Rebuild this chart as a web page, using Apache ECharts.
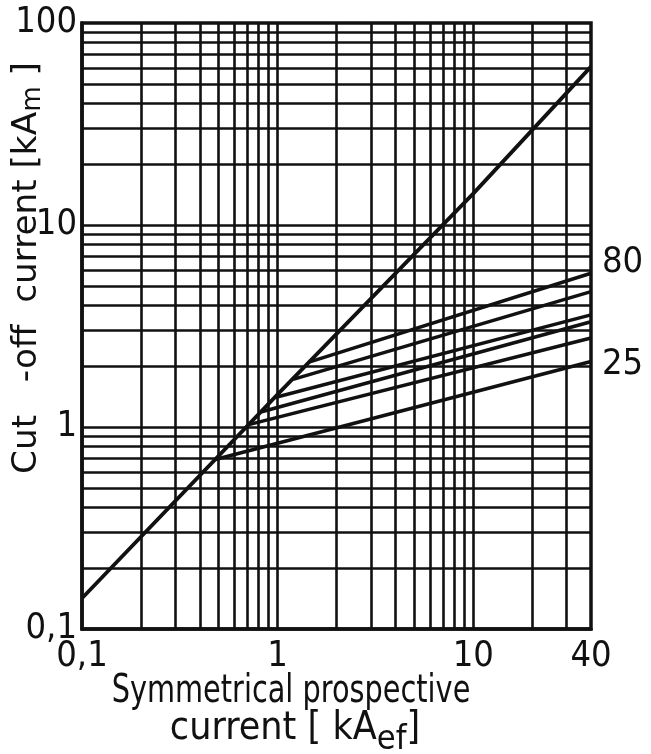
<!DOCTYPE html>
<html><head><meta charset="utf-8">
<script src="https://cdn.jsdelivr.net/npm/echarts@6/dist/echarts.min.js"></script>
<style>html,body{margin:0;padding:0;background:#fff}#c{width:651px;height:754px}</style>
</head><body><div id="c"></div>
<script>
// ---- data ----
const xTickLabels = [0.1, 1, 10, 40];
const yTickLabels = [0.1, 1, 10, 100];
const xGridValues = [0.2,0.3,0.4,0.5,0.6,0.7,0.8,0.9,1,2,3,4,5,6,7,8,9,10,20,30];
const yGridValues = [0.2,0.3,0.4,0.5,0.6,0.7,0.8,0.9,1,2,3,4,5,6,7,8,9,10,20,30,40,50,60,70,80,90];
// unlimited peak current line
const peakX = [0.1, 1, 10, 40];
const peakY = [0.142, 1.45, 14.3, 60.8];
// cut-off lines of the fuses (rated current, A)
const fuseRatings = [25, 32, 40, 50, 63, 80];
const fuseStartX = [0.48, 0.72, 0.83, 0.97, 1.2, 1.46];
const fuseStartY = [0.69, 1.03, 1.19, 1.40, 1.72, 2.1];
const fuseEndX   = [40, 40, 40, 40, 40, 40];
const fuseEndY   = [2.11, 2.76, 3.32, 3.59, 4.68, 5.77];

const INK = '#111';
const FONT = '"DejaVu Sans Condensed", sans-serif';
const fmt = v => String(v).replace('.', ',');

const series = [{
  type: 'line', name: 'peak', symbol: 'none',
  data: peakX.map((x, i) => [x, peakY[i]]),
  lineStyle: {color: INK, width: 3.8}, z: 5,
  markLine: {
    silent: true, symbol: 'none', animation: false,
    label: {show: false},
    lineStyle: {color: INK, width: 2.6, type: 'solid'},
    data: xGridValues.map(v => ({xAxis: v})).concat(yGridValues.map(v => ({yAxis: v})))
  }
}];
fuseRatings.forEach((r, i) => {
  const labelled = (r === 80 || r === 25);
  series.push({
    type: 'line', name: String(r), symbol: 'none', z: 5,
    data: [[fuseStartX[i], fuseStartY[i]], [fuseEndX[i], fuseEndY[i]]],
    lineStyle: {color: INK, width: 3.5},
    endLabel: {
      show: labelled, formatter: String(r), color: INK,
      fontFamily: FONT, fontSize: 36, distance: 11,
      offset: r === 80 ? [0, -11] : [0, 3]
    }
  });
});

const chart = echarts.init(document.getElementById('c'), null, {renderer: 'canvas'});
chart.setOption({
  animation: false,
  backgroundColor: '#fff',
  grid: {left: 82, right: 60, top: 23, bottom: 125, show: true, borderColor: INK, borderWidth: 3.5, backgroundColor: 'transparent'},
  xAxis: {
    type: 'log', logBase: 10, min: 0.1, max: 40,
    axisLine: {show: true, lineStyle: {color: INK, width: 3.5}},
    axisTick: {show: false},
    splitLine: {show: false},
    axisLabel: {customValues: xTickLabels, formatter: v => fmt(v), color: INK, fontFamily: FONT, fontSize: 36, margin: 10, showMinLabel: true, showMaxLabel: true}
  },
  yAxis: {
    type: 'log', logBase: 10, min: 0.1, max: 100,
    axisLine: {show: true, lineStyle: {color: INK, width: 3.5}},
    axisTick: {show: false},
    splitLine: {show: false},
    axisLabel: {customValues: yTickLabels, formatter: v => fmt(v), color: INK, fontFamily: FONT, fontSize: 36, margin: 5, showMinLabel: true, showMaxLabel: true}
  },
  graphic: [
    {type: 'text', x: 27, y: 268, rotation: Math.PI / 2, scaleX: 1.12, scaleY: 1.0,
     style: {text: 'Cut   -off  current [kA{s|m} ]', font: '34px ' + FONT, fill: INK, align: 'center', verticalAlign: 'middle',
             rich: {s: {font: '26px ' + FONT, fill: INK, padding: [12, 0, 0, 0]}}}},
    {type: 'text', x: 291, y: 692, scaleY: 1.2,
     style: {text: 'Symmetrical prospective', font: '32px ' + FONT, fill: INK, align: 'center', verticalAlign: 'middle'}},
    {type: 'text', x: 295, y: 729, scaleX: 1.22, scaleY: 1.2,
     style: {text: 'current [ kA{s|ef}]', font: '32px ' + FONT, fill: INK, align: 'center', verticalAlign: 'middle',
             rich: {s: {font: '28px ' + FONT, fill: INK, padding: [18, 0, 0, 0]}}}}
  ],
  series: series
});
</script></body></html>
